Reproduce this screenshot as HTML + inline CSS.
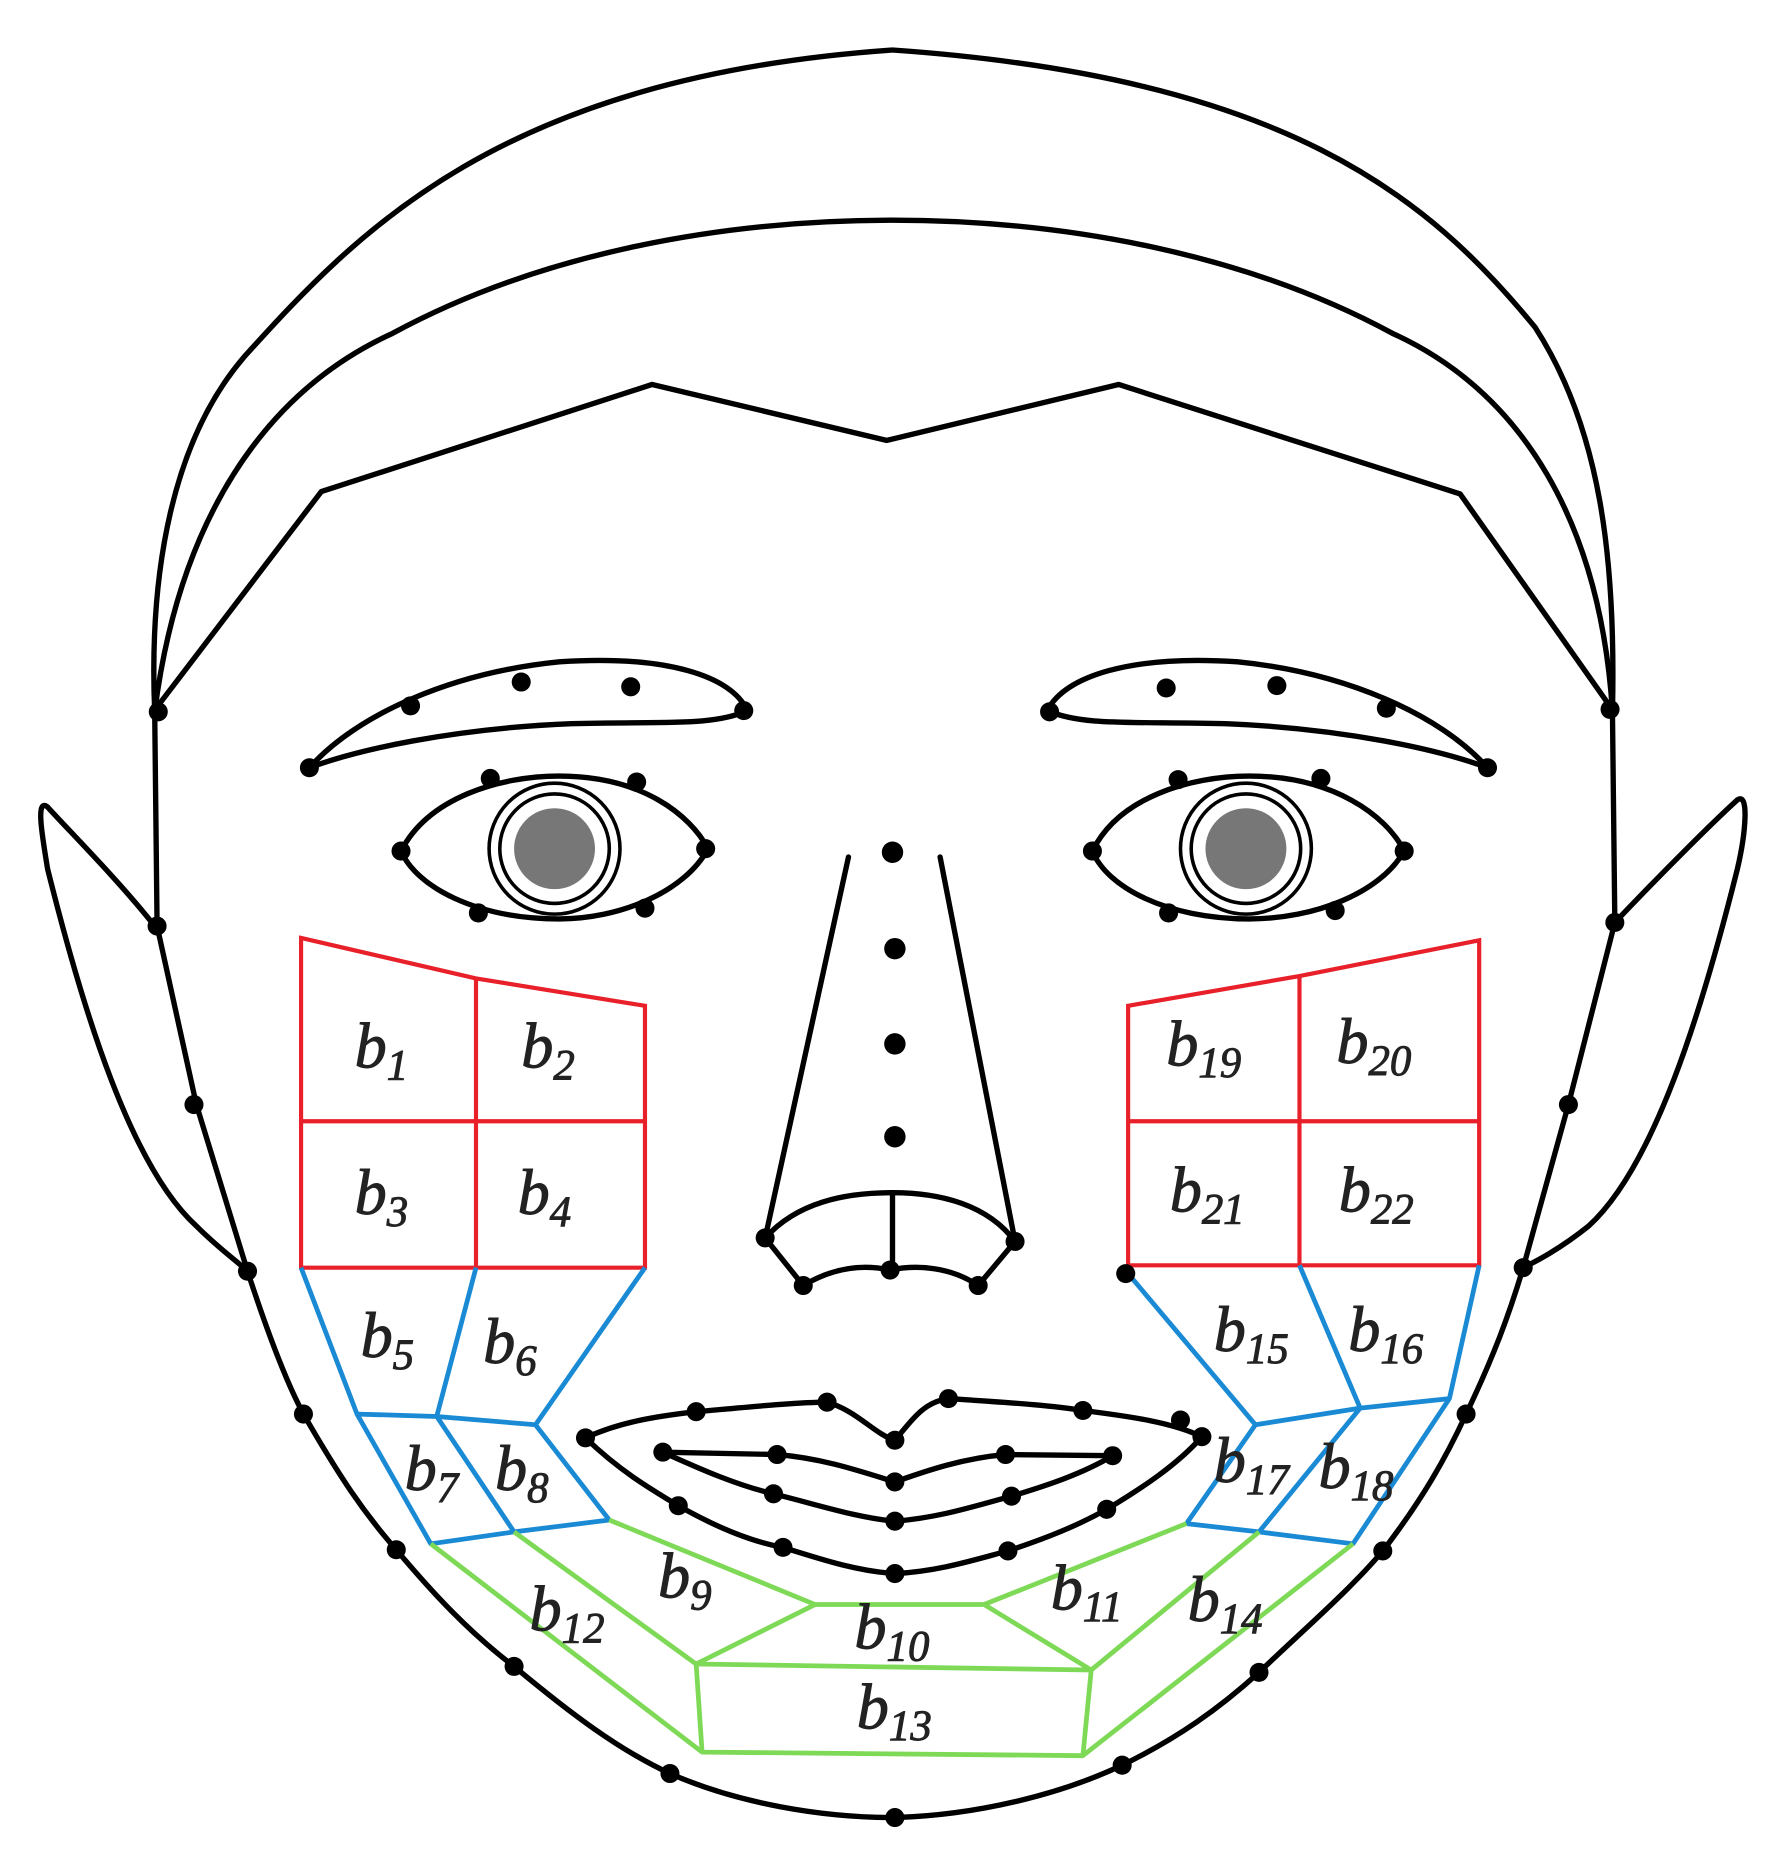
<!DOCTYPE html>
<html><head><meta charset="utf-8"><style>
html,body{margin:0;padding:0;background:#fff;}
svg{display:block;}
text{font-family:"Liberation Serif",serif;font-style:italic;fill:#222;stroke:#222;stroke-width:0.8;}
</style></head><body>
<svg width="1785" height="1864" viewBox="0 0 1500 1566" preserveAspectRatio="none" xmlns="http://www.w3.org/2000/svg">
<rect width="1500" height="1566" fill="#fff"/>
<g fill="none" stroke="#000" stroke-width="4.5" stroke-linejoin="round" stroke-linecap="round">
<path d="M130,598 C125,480 145,370 205,300 C300,195 420,65 750,42 C1080,65 1200,165 1290,275 C1345,360 1358,470 1355,598"/>
<path d="M130,598 C150,440 220,330 330,280 C450,215 600,185 750,185 C900,185 1050,215 1170,280 C1280,330 1345,440 1355,598"/>
<path d="M135,590 L270,413 L548,323 L745,370 L940,323 L1227,415 L1352,592"/>
<path d="M130,598 L132,778 L165,928 L208,1068 C225,1120 240,1160 255,1188 C285,1240 305,1270 333,1302 C365,1340 395,1372 432,1400 C480,1440 520,1470 563,1490 C620,1515 690,1527 752,1527 C820,1525 890,1508 943,1483 C990,1460 1025,1435 1058,1405 C1100,1365 1135,1335 1162,1303 C1195,1260 1215,1225 1232,1188 C1255,1140 1268,1105 1280,1065 L1318,928 L1357,775 L1355,598"/>
<path d="M130,778 C100,740 60,700 40,678 C30,670 35,700 40,730 C70,850 110,980 165,1030 C185,1050 200,1060 208,1068"/>
<path d="M1357,775 C1395,735 1440,690 1460,672 C1470,665 1467,700 1460,730 C1430,850 1390,980 1335,1030 C1310,1050 1290,1060 1280,1065"/>
<path d="M260,645 C300,600 380,565 470,556 C560,550 615,568 628,597 C600,610 560,606 480,608 C380,612 300,630 260,645 Z"/>
<path d="M1250,645 C1210,600 1130,565 1040,556 C950,550 895,568 880,597 C910,610 950,606 1030,608 C1130,612 1210,630 1250,645 Z"/>
<path d="M337,715 C360,670 420,652 470,652 C540,652 580,685 595,713 C575,750 520,772 470,772 C400,772 350,745 337,715 Z"/>
<path d="M918,715 C940,670 1000,652 1050,652 C1120,652 1165,685 1180,715 C1160,750 1105,772 1050,772 C980,772 930,745 918,715 Z"/>
<circle cx="466" cy="713" r="55" stroke-width="3"/>
<circle cx="466" cy="713" r="46" stroke-width="3"/>
<circle cx="1047" cy="713" r="55" stroke-width="3"/>
<circle cx="1047" cy="713" r="46" stroke-width="3"/>
<path d="M713,720 L643,1040"/>
<path d="M790,720 L853,1043"/>
<path d="M643,1040 C670,1010 710,1002 750,1002 C790,1002 830,1012 853,1043"/>
<path d="M750,1002 L750,1067"/>
<path d="M643,1040 L675,1080 C700,1065 725,1062 748,1067 C772,1062 800,1065 822,1080 L853,1043"/>
<path d="M492,1208 C520,1195 550,1190 585,1186 C630,1182 670,1178 695,1178 C720,1185 735,1205 752,1210 C765,1195 775,1178 797,1175 C840,1178 880,1180 910,1185 C950,1190 985,1195 1010,1207"/>
<path d="M492,1208 C520,1235 545,1250 570,1265 C600,1282 630,1295 658,1300 C690,1310 720,1320 752,1322 C790,1320 820,1310 847,1303 C880,1292 905,1282 930,1268 C960,1250 990,1230 1010,1207"/>
<path d="M557,1220 L653,1222 C690,1225 720,1235 752,1245 C780,1235 810,1225 845,1222 L935,1223"/>
<path d="M557,1220 C590,1235 620,1248 650,1255 C690,1265 720,1275 752,1278 C790,1275 820,1265 850,1257 C880,1248 910,1238 935,1223"/>
</g>
<g fill="#777">
<circle cx="466" cy="713" r="34"/><circle cx="1047" cy="713" r="34"/>
</g>
<g fill="none" stroke="#e8202a" stroke-width="3.5">
<path d="M253,788 L400,822 L542,845 L542,1065 L253,1065 Z"/>
<path d="M400,822 L400,1065 M253,942 L542,942"/>
<path d="M948,845 L1092,820 L1243,790 L1243,1063 L948,1063 Z"/>
<path d="M1092,820 L1092,1063 M948,942 L1243,942"/>
</g>
<g fill="none" stroke="#1a8ad4" stroke-width="4" stroke-linejoin="round">
<path d="M253,1065 L300,1188 L362,1297 L432,1287 L512,1277 L450,1197 L542,1065"/>
<path d="M400,1065 L367,1190 M300,1188 L367,1190 L450,1197 M367,1190 L432,1287"/>
<path d="M948,1070 L1055,1197 L997,1280 L1058,1287 L1137,1297 L1218,1175 L1243,1063"/>
<path d="M1092,1063 L1143,1183 M1055,1197 L1143,1183 L1218,1175 M1143,1183 L1058,1287"/>
</g>
<g fill="none" stroke="#7ed957" stroke-width="4" stroke-linejoin="round">
<path d="M362,1297 L590,1472 L910,1475 L1137,1297"/>
<path d="M432,1287 L585,1398 L590,1472"/>
<path d="M512,1277 L685,1348 L827,1348 L997,1280"/>
<path d="M685,1348 L585,1398 L917,1403 L827,1348"/>
<path d="M1058,1287 L917,1403 L910,1475"/>
</g>
<g fill="#000">
<circle cx="133" cy="598" r="8"/><circle cx="1353" cy="596" r="8"/>
<circle cx="132" cy="778" r="8"/><circle cx="1357" cy="775" r="8"/>
<circle cx="163" cy="928" r="8"/><circle cx="1318" cy="928" r="8"/>
<circle cx="208" cy="1068" r="8"/><circle cx="1280" cy="1065" r="8"/>
<circle cx="255" cy="1188" r="8"/><circle cx="1232" cy="1188" r="8"/>
<circle cx="333" cy="1302" r="8"/><circle cx="1162" cy="1303" r="8"/>
<circle cx="432" cy="1400" r="8"/><circle cx="1058" cy="1405" r="8"/>
<circle cx="563" cy="1490" r="8"/><circle cx="943" cy="1483" r="8"/>
<circle cx="752" cy="1527" r="8"/>
<circle cx="260" cy="645" r="8"/><circle cx="345" cy="593" r="8"/><circle cx="438" cy="573" r="8"/><circle cx="530" cy="577" r="8"/><circle cx="625" cy="597" r="8"/>
<circle cx="1250" cy="645" r="8"/><circle cx="1165" cy="595" r="8"/><circle cx="1073" cy="576" r="8"/><circle cx="980" cy="578" r="8"/><circle cx="882" cy="598" r="8"/>
<circle cx="337" cy="715" r="8"/><circle cx="412" cy="654" r="8"/><circle cx="535" cy="657" r="8"/><circle cx="593" cy="713" r="8"/><circle cx="542" cy="763" r="8"/><circle cx="402" cy="767" r="8"/>
<circle cx="918" cy="715" r="8"/><circle cx="990" cy="655" r="8"/><circle cx="1110" cy="654" r="8"/><circle cx="1180" cy="715" r="8"/><circle cx="1122" cy="765" r="8"/><circle cx="982" cy="767" r="8"/>
<circle cx="750" cy="716" r="9"/><circle cx="752" cy="797" r="9"/><circle cx="752" cy="877" r="9"/><circle cx="752" cy="955" r="9"/>
<circle cx="643" cy="1040" r="8"/><circle cx="675" cy="1080" r="8"/><circle cx="748" cy="1067" r="8"/><circle cx="822" cy="1080" r="8"/><circle cx="853" cy="1043" r="8"/>
<circle cx="946" cy="1070" r="8"/>
<circle cx="492" cy="1208" r="8"/><circle cx="585" cy="1186" r="8"/><circle cx="695" cy="1178" r="8"/><circle cx="752" cy="1210" r="8"/><circle cx="797" cy="1175" r="8"/><circle cx="910" cy="1185" r="8"/><circle cx="992" cy="1193" r="8"/><circle cx="1010" cy="1207" r="8"/>
<circle cx="557" cy="1220" r="8"/><circle cx="653" cy="1222" r="8"/><circle cx="752" cy="1245" r="8"/><circle cx="845" cy="1222" r="8"/><circle cx="935" cy="1223" r="8"/>
<circle cx="650" cy="1255" r="8"/><circle cx="752" cy="1278" r="8"/><circle cx="850" cy="1257" r="8"/>
<circle cx="570" cy="1265" r="8"/><circle cx="658" cy="1300" r="8"/><circle cx="752" cy="1322" r="8"/><circle cx="847" cy="1303" r="8"/><circle cx="930" cy="1268" r="8"/>
</g>
<g font-size="54">
<text x="298" y="897">b<tspan font-size="36" dy="10">1</tspan></text>
<text x="438" y="897">b<tspan font-size="36" dy="10">2</tspan></text>
<text x="298" y="1020">b<tspan font-size="36" dy="10">3</tspan></text>
<text x="435" y="1020">b<tspan font-size="36" dy="10">4</tspan></text>
<text x="980" y="895">b<tspan font-size="36" dy="10">19</tspan></text>
<text x="1123" y="893">b<tspan font-size="36" dy="10">20</tspan></text>
<text x="983" y="1018">b<tspan font-size="36" dy="10">21</tspan></text>
<text x="1125" y="1018">b<tspan font-size="36" dy="10">22</tspan></text>
<text x="303" y="1140">b<tspan font-size="36" dy="10">5</tspan></text>
<text x="406" y="1145">b<tspan font-size="36" dy="10">6</tspan></text>
<text x="1020" y="1135">b<tspan font-size="36" dy="10">15</tspan></text>
<text x="1133" y="1135">b<tspan font-size="36" dy="10">16</tspan></text>
<text x="340" y="1252">b<tspan font-size="36" dy="10">7</tspan></text>
<text x="416" y="1252">b<tspan font-size="36" dy="10">8</tspan></text>
<text x="1020" y="1245">b<tspan font-size="36" dy="10">17</tspan></text>
<text x="1108" y="1250">b<tspan font-size="36" dy="10">18</tspan></text>
<text x="553" y="1342">b<tspan font-size="36" dy="10">9</tspan></text>
<text x="718" y="1385">b<tspan font-size="36" dy="10">10</tspan></text>
<text x="883" y="1352">b<tspan font-size="36" dy="10">11</tspan></text>
<text x="445" y="1370">b<tspan font-size="36" dy="10">12</tspan></text>
<text x="720" y="1452">b<tspan font-size="36" dy="10">13</tspan></text>
<text x="998" y="1362">b<tspan font-size="36" dy="10">14</tspan></text>
</g>
</svg>
</body></html>
